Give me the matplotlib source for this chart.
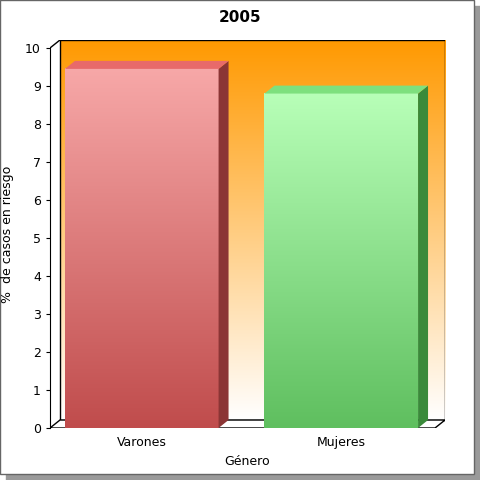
import numpy as np
import matplotlib
matplotlib.use("Agg")
import matplotlib.pyplot as plt
from matplotlib.patches import Polygon, Rectangle
from matplotlib.colors import LinearSegmentedColormap

categories = ["Varones", "Mujeres"]
values = [9.45, 8.8]
yticks = list(range(0, 11))
title = "2005"

fig = plt.figure(figsize=(4.8, 4.8), dpi=100)
# frame with shadow
fig.patches.append(Rectangle((6/480, 0), 474/480, 474/480, transform=fig.transFigure, color="#9a9a9a", zorder=-20))
fig.patches.append(Rectangle((0, 6/480), 474/480, 474/480, transform=fig.transFigure, facecolor="white", edgecolor="#666666", lw=1, zorder=-10))

dx, dy = 0.05, 0.21
ax = fig.add_axes([50/480, (480-428)/480, 395/480, 388/480])
ax.set_zorder(5)
x0, x1 = -0.46, 1.52
ax.set_xlim(x0, x1); ax.set_ylim(0, 10 + dy)
ax.patch.set_alpha(0)
for s in ["top", "right", "bottom"]:
    ax.spines[s].set_visible(False)
ax.spines["left"].set_bounds(0, 10)

def grad(ax, xa, xb, ya, yb, ctop, cbot, z):
    cm = LinearSegmentedColormap.from_list("g", [cbot, ctop])
    ax.imshow(np.linspace(0, 1, 256).reshape(-1, 1), cmap=cm, origin="lower",
              extent=[xa, xb, ya, yb], aspect="auto", zorder=z)

# back wall
grad(ax, x0 + dx, x1, dy, 10 + dy, "#ff9900", "#ffffff", 0)
ax.add_patch(Rectangle((x0 + dx, dy), x1 - x0 - dx, 10, fill=False, ec="black", lw=1, zorder=1))
# floor
ax.add_patch(Polygon([(x0, 0), (x1 - dx, 0), (x1, dy), (x0 + dx, dy)], closed=True,
                     fc="white", ec="black", lw=1, zorder=1))
ax.plot([x0, x0 + dx], [10, 10 + dy], color="black", lw=1, zorder=1)

styles = [("#f7a8a8", "#c04c4c", "#8b3535", "#e86a6a"),
          ("#b8ffb8", "#5fbf5f", "#3a8a3a", "#7ee07e")]
w = 0.77
for i, (c, v) in enumerate(zip(categories, values)):
    ctop, cbot, cside, ctopf = styles[i]
    xa, xb = i - w/2, i + w/2
    grad(ax, xa, xb, 0, v, ctop, cbot, 3)
    ax.add_patch(Polygon([(xb, 0), (xb + dx, dy), (xb + dx, v + dy), (xb, v)], fc=cside, ec="none", zorder=3))
    ax.add_patch(Polygon([(xa, v), (xb, v), (xb + dx, v + dy), (xa + dx, v + dy)], fc=ctopf, ec="none", zorder=3))

ax.set_xlim(x0, x1); ax.set_ylim(0, 10 + dy)
ax.set_xticks(range(len(categories)), categories, fontsize=9)
ax.tick_params(axis="x", length=0, pad=6)
ax.set_yticks(yticks, [str(t) for t in yticks], fontsize=9)
ax.tick_params(axis="y", length=3)
ax.set_xlabel("Género", fontsize=9, labelpad=4)
ax.set_ylabel("%  de casos en riesgo", fontsize=9, labelpad=8)
fig.text(0.5, 462/480, title, ha="center", va="center", fontsize=11, fontweight="bold")
fig.savefig("out.png", dpi=100)
